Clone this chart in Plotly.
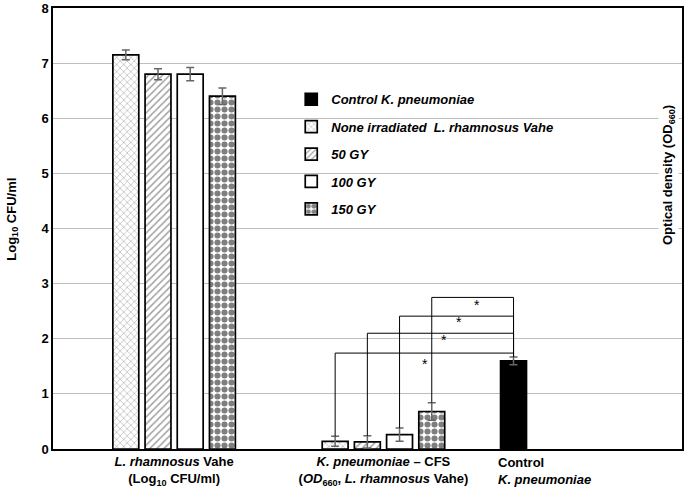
import plotly.graph_objects as go

# ---------------- data ----------------
group_labels = [
    "<i>L. rhamnosus</i> Vahe<br>(Log<sub>10</sub> CFU/ml)",
    "<i>K. pneumoniae</i> – CFS<br>(<i>OD</i><sub>660</sub>, <i>L. rhamnosus</i> Vahe)",
]
control_label = "Control<br><i>K. pneumoniae</i>"

series_names = ["None irradiated&nbsp; L. rhamnosus Vahe", "50 GY", "100 GY", "150 GY"]
series_values = [
    [7.15, 0.14],   # none irradiated
    [6.80, 0.13],   # 50 GY
    [6.80, 0.26],   # 100 GY
    [6.40, 0.68],   # 150 GY
]
series_errors = [
    [0.09, 0.09],
    [0.10, 0.11],
    [0.12, 0.12],
    [0.15, 0.16],
]
control_name = "Control K. pneumoniae"
control_value = [1.60]
control_error = [0.07]

# significance brackets (second group vs control): bracket height and star label position
bracket_levels = [1.74, 2.10, 2.41, 2.75]
star_y = [1.55, 1.97, 2.30, 2.62]
star_dx = [90, 77, 60, 45]   # star x offset from the treatment bar (axis units)

y_ticks = [0, 1, 2, 3, 4, 5, 6, 7, 8]

# ---------------- layout constants ----------------
W, H = 685, 489
ML, MR, MT, MB = 53, 1, 5, 39
PLOT_W = W - ML - MR
GROUP_CENTERS = [121.5, 331.5]
CONTROL_CENTER = 462
BAR_W = 26
BAR_STEP = 32.3
FONT = "Liberation Sans, Arial, sans-serif"

patterns = [
    dict(shape="x", size=5, solidity=0.2, fgcolor="#444", bgcolor="white"),
    dict(shape="/", size=5, solidity=0.3, fgcolor="#444", bgcolor="white"),
    dict(shape="", bgcolor="white"),
    dict(shape=".", size=7, solidity=0.6, fgcolor="black", bgcolor="white"),
]

fig = go.Figure()

bar_x = []
for i, (name, vals, errs, pat) in enumerate(zip(series_names, series_values, series_errors, patterns)):
    xs = [c + (i - 1.5) * BAR_STEP for c in GROUP_CENTERS]
    bar_x.append(xs)
    fig.add_trace(go.Bar(
        x=xs, y=vals, width=BAR_W, name=name,
        legendgroup=name, legendrank=i + 2,
        marker=dict(color="white", pattern=pat, line=dict(color="black", width=1.7)),
        error_y=dict(type="data", array=errs, color="#666", thickness=1.5, width=4),
    ))

fig.add_trace(go.Bar(
    x=[CONTROL_CENTER], y=control_value, width=BAR_W, name=control_name,
    legendgroup="control", legendrank=1,
    marker=dict(color="black", line=dict(color="black", width=1.7)),
    error_y=dict(type="data", array=control_error, color="#666", thickness=1.5, width=4),
))

# brackets
ctrl_top = control_value[0] + control_error[0]
for i in range(4):
    x0 = bar_x[i][1]
    y0 = series_values[i][1] + series_errors[i][1]
    lvl = bracket_levels[i]
    fig.add_shape(type="path",
                  path=f"M {x0},{y0} L {x0},{lvl} L {CONTROL_CENTER},{lvl} L {CONTROL_CENTER},{ctrl_top}",
                  line=dict(color="black", width=1), layer="above")
    fig.add_annotation(x=x0 + star_dx[i], y=star_y[i], text="*", showarrow=False,
                       font=dict(family=FONT, size=14, color="black"))

# control label (left aligned)
fig.add_annotation(x=CONTROL_CENTER, y=0, xref="x", yref="y", text=control_label,
                   showarrow=False, xanchor="left", yanchor="top", align="left",
                   xshift=-18, yshift=-4,
                   font=dict(family=FONT, size=13, color="black", weight="bold"))

# axis titles
fig.add_annotation(xref="paper", yref="paper", x=(1 - ML) / PLOT_W, y=(H - MB - 218) / (H - MT - MB),
                   text="Log<sub>10</sub> CFU/ml", textangle=-90, showarrow=False,
                   font=dict(family=FONT, size=13, color="black", weight="bold"))
fig.add_annotation(xref="paper", yref="paper", x=(681 - ML) / PLOT_W, y=(H - MB - 174) / (H - MT - MB),
                   text="Optical density (OD<sub>660</sub>)", textangle=-90, showarrow=False,
                   bgcolor="white",
                   font=dict(family=FONT, size=13, color="black", weight="bold"))

fig.update_layout(
    width=W, height=H,
    margin=dict(l=ML, r=MR, t=MT, b=MB),
    paper_bgcolor="white", plot_bgcolor="white",
    barmode="overlay",
    font=dict(family=FONT, size=13, color="black"),
    showlegend=True,
    legend=dict(
        x=(292 - ML) / PLOT_W, y=(H - MB - 82) / (H - MT - MB),
        xanchor="left", yanchor="top",
        bgcolor="rgba(0,0,0,0)", tracegroupgap=7.5,
        font=dict(family=FONT, size=13, color="black", style="italic", weight="bold"),
    ),
    xaxis=dict(
        range=[0, PLOT_W], tickvals=GROUP_CENTERS, ticktext=group_labels,
        showgrid=False, zeroline=False, ticks="",
        showline=True, linecolor="black", linewidth=1.5, mirror=True,
        tickfont=dict(family=FONT, size=13, color="black", weight="bold"),
    ),
    yaxis=dict(
        range=[0, 8], tickvals=y_ticks,
        showgrid=True, gridcolor="#bdbdbd", gridwidth=1, zeroline=False, ticks="",
        showline=True, linecolor="black", linewidth=1.5, mirror=True,
        ticklabeloverflow="allow",
        tickfont=dict(family=FONT, size=13, color="black", weight="bold"),
    ),
)

fig.write_html("out.html", config={"displayModeBar": False},
               post_script="document.body.style.margin='0';")
